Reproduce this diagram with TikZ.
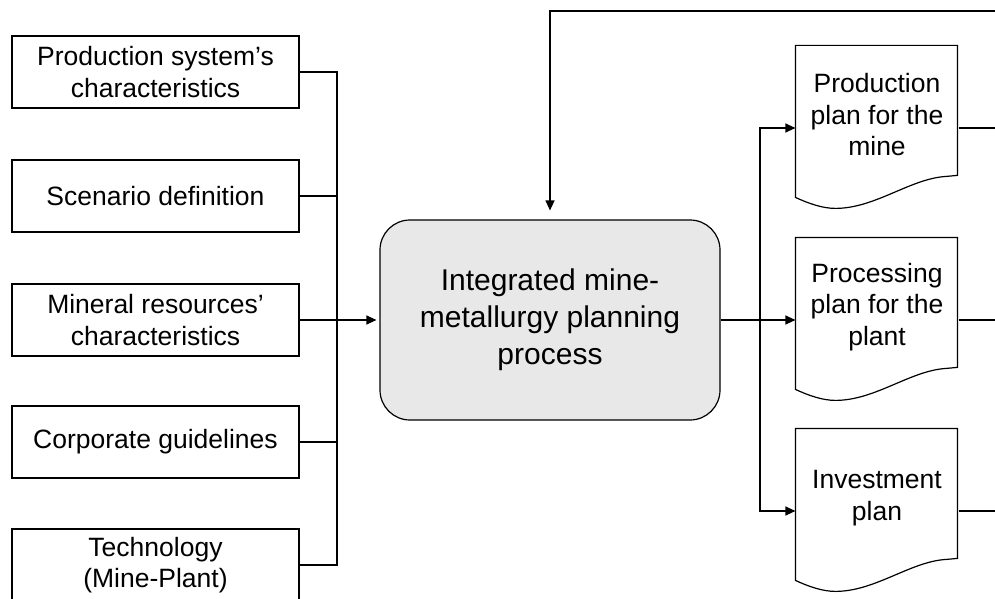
\documentclass[tikz,border=0pt]{standalone}
\usepackage{fontspec}
\setmainfont{Liberation Sans}
\usetikzlibrary{arrows.meta}
\begin{document}
\begin{tikzpicture}[x=1pt,y=-1pt,
  line width=1.2pt,
  inbox/.style={draw, minimum width=287pt, minimum height=72pt, inner sep=0pt,
    align=center, font=\fontsize{26.5}{31.5}\selectfont},
  procbox/.style={draw, rounded corners=30pt, fill=black!9, minimum width=340pt,
    minimum height=200pt, align=center, font=\fontsize{30}{37}\selectfont},
  docframe/.style={minimum width=162pt, minimum height=164pt, inner sep=0pt},
  doctext/.style={align=center, inner sep=0pt, font=\fontsize{26.5}{31.5}\selectfont},
  link/.style={line width=1.2pt},
  flow/.style={link, -{Triangle[length=10pt,width=9pt]}}
]
\useasboundingbox (0,0) rectangle (995,599);

% input boxes
\node[inbox] (b1) at (155.5,72)  {Production system’s\\characteristics};
\node[inbox] (b2) at (155.5,196) {Scenario definition};
\node[inbox] (b3) at (155.5,320) {Mineral resources’\\characteristics};
\node[inbox] (b4) at (155.5,442) {Corporate guidelines};
\node[inbox] (b5) at (155.5,565) {Technology\\(Mine-Plant)};

% central process
\node[procbox] (proc) at (550,320) {Integrated mine-\\metallurgy planning\\process};

% output documents
\node[docframe, label={[doctext, yshift=13pt]center:{Production\\plan for the\\mine}}] (d1) at (877,128) {};
\node[docframe, label={[doctext, yshift=13pt]center:{Processing\\plan for the\\plant}}] (d2) at (877,320) {};
\node[docframe, label={[doctext, yshift=13pt]center:{Investment\\plan}}] (d3) at (877,511) {};

\foreach \d in {d1,d2,d3}{
  \begin{scope}[shift={(\d.north west)}]
    \draw (0,0) -- (162,0) -- (162,130) -- (151,131)
      .. controls (115,133) and (80,163) .. (40,163)
      .. controls (27,163) and (13,158) .. (0,152) -- cycle;
  \end{scope}
}

% inputs gathered on a bus
\coordinate (hub) at (337,320);
\draw[link] (b1.east) -| (hub);
\draw[link] (b2.east) -| (hub);
\draw[link] (b4.east) -| (hub);
\draw[link] (b5.east) -| (hub);
\draw[flow, shorten >=3pt] (b3.east) -- (proc.west);

% outputs distributed to the plans
\coordinate (split) at (760,320);
\draw[flow] (proc.east) -- (d2.west);
\draw[flow] (split) |- (d1.west);
\draw[flow] (split) |- (d3.west);

% lines leaving the plans
\coordinate (o1) at (995,128);
\coordinate (o2) at (995,320);
\coordinate (o3) at (995,511);
\draw[link] (d1.east) -- (o1);
\draw[link] (d2.east) -- (o2);
\draw[link] (d3.east) -- (o3);

% feedback into the process
\coordinate (fb) at (995,11);
\draw[flow, shorten >=9pt] (fb) -| (proc.north);
\end{tikzpicture}
\end{document}
